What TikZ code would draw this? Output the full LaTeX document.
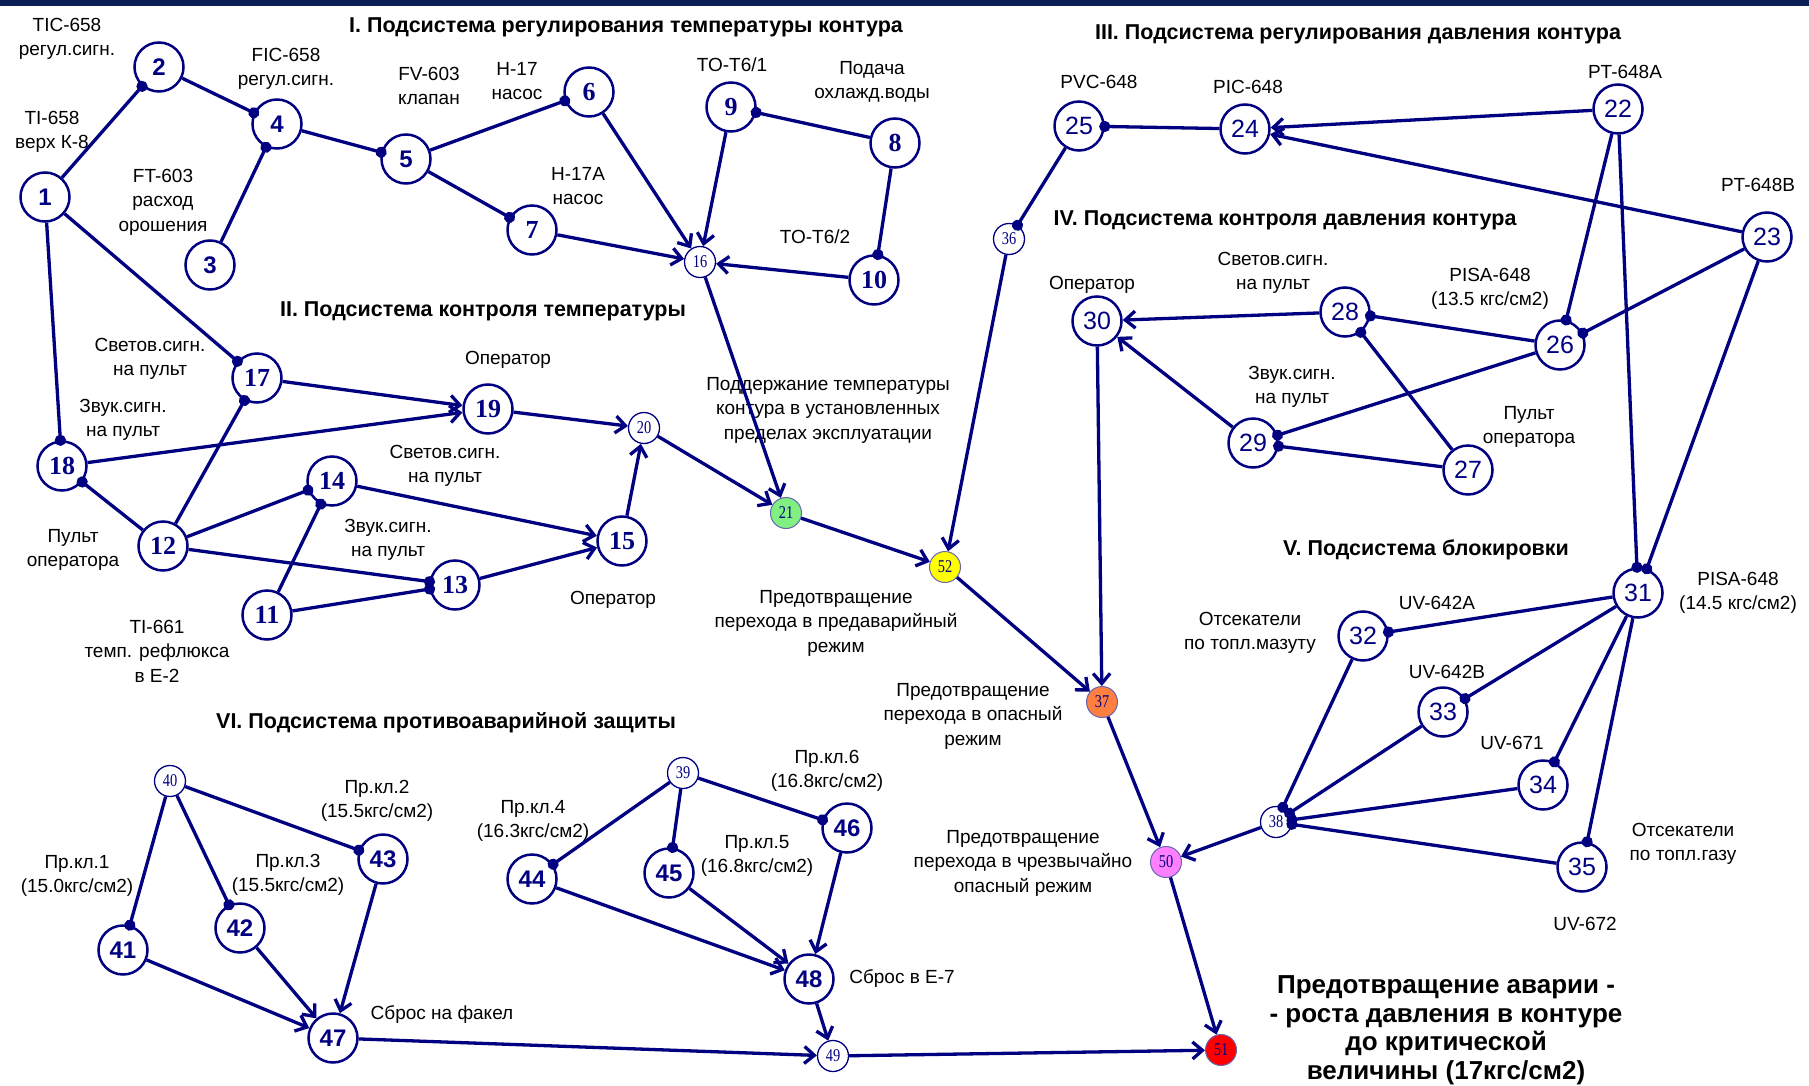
\documentclass[tikz,border=0pt]{standalone}
\usepackage{fontspec}
\setmainfont{Liberation Sans}
\newfontfamily\numserif{Liberation Serif}
\newfontfamily\narrowserif[FakeStretch=0.8]{Liberation Serif}
\usetikzlibrary{arrows.meta}
\definecolor{gnavy}{HTML}{000080}
\definecolor{gband}{HTML}{0B1E55}
\definecolor{ggreen}{HTML}{80F080}
\definecolor{gyellow}{HTML}{FFFF00}
\definecolor{gorange}{HTML}{FF7F40}
\definecolor{gpink}{HTML}{FF80FF}
\definecolor{gred}{HTML}{FF0000}
\tikzset{
  vert/.style={circle,draw=gnavy,fill=white,line width=2.5pt,minimum size=49pt,inner sep=0pt,text=gnavy,font=\fontsize{24}{24}\selectfont\bfseries},
  vserif/.style={vert,font=\numserif\fontsize{26}{26}\selectfont\bfseries},
  vthin/.style={vert,font=\fontsize{25}{25}\selectfont},
  vsm/.style={circle,draw=gnavy,fill=white,line width=1.3pt,minimum size=31pt,inner sep=0pt,text=gnavy,font=\narrowserif\fontsize{18}{18}\selectfont},
  evt/.style={vsm,draw=gnavy!60,line width=1pt},
  arr/.style={-{Straight Barb[length=10pt,width=17pt]},line width=3.3pt,draw=gnavy},
  con/.style={-{Circle[length=11pt]},shorten >=-5.5pt,line width=3.3pt,draw=gnavy},
  lbl/.style={font=\fontsize{19}{24.5}\selectfont,align=center,inner sep=0pt},
  ttl/.style={font=\fontsize{21.5}{24}\selectfont\bfseries,inner sep=0pt},
}
\begin{document}
\begin{tikzpicture}[x=1pt,y=-1pt]
  \useasboundingbox (0,0) rectangle (1809,1086);
  \fill[gband] (0,0) rectangle (1809,6);
  % I. регулирование температуры
  \node[ttl] at (626,27) {I. Подсистема регулирования температуры контура};
  \node[vert] (n1) at (45,197) {1};
  \node[vert] (n2) at (159,67) {2};
  \node[vert] (n3) at (210,265) {3};
  \node[vert] (n4) at (277,124) {4};
  \node[vert] (n5) at (406,159) {5};
  \node[vserif] (n6) at (589,92) {6};
  \node[vserif] (n7) at (532,230) {7};
  \node[vserif] (n8) at (895,143) {8};
  \node[vserif] (n9) at (731,107) {9};
  \node[vserif] (n10) at (874,280) {10};
  \node[vsm] (n16) at (700,262) {16};
  \node[lbl] at (67,39) {TIC-658\\регул.сигн.};
  \node[lbl] at (286,69) {FIC-658\\регул.сигн.};
  \node[lbl] at (52,132) {TI-658\\верх К-8};
  \node[lbl] at (163,202) {FT-603\\расход\\орошения};
  \node[lbl] at (429,86) {FV-603\\клапан};
  \node[lbl] at (517,81) {H-17\\насос};
  \node[lbl] at (578,186) {H-17A\\насос};
  \node[lbl] at (732,65) {TO-T6/1};
  \node[lbl] at (872,82) {Подача\\охлажд.воды};
  \node[lbl] at (815,237) {TO-T6/2};
  \draw[con] (n1) -- (n2);
  \draw[con] (n2) -- (n4);
  \draw[con] (n3) -- (n4);
  \draw[con] (n4) -- (n5);
  \draw[con] (n5) -- (n6);
  \draw[con] (n5) -- (n7);
  \draw[con] (n8) -- (n9);
  \draw[con] (n8) -- (n10);
  \draw[arr] (n6) -- (n16);
  \draw[arr] (n7) -- (n16);
  \draw[arr] (n9) -- (n16);
  \draw[arr] (n10) -- (n16);
  % II. контроль температуры
  \node[ttl] at (483,311) {II. Подсистема контроля температуры};
  \node[vserif] (n11) at (267,615) {11};
  \node[vserif] (n12) at (163,546) {12};
  \node[vserif] (n13) at (455,585) {13};
  \node[vserif] (n14) at (332,481) {14};
  \node[vserif] (n15) at (622,541) {15};
  \node[vserif] (n17) at (257,378) {17};
  \node[vserif] (n18) at (62,466) {18};
  \node[vserif] (n19) at (488,409) {19};
  \node[vsm] (n20) at (644,428) {20};
  \node[evt,fill=ggreen] (n21) at (786,513) {21};
  \node[lbl] at (150,359) {Светов.сигн.\\на пульт};
  \node[lbl] at (123,420) {Звук.сигн.\\на пульт};
  \node[lbl] at (508,360) {Оператор};
  \node[lbl] at (445,466) {Светов.сигн.\\на пульт};
  \node[lbl] at (388,540) {Звук.сигн.\\на пульт};
  \node[lbl] at (73,550) {Пульт\\оператора};
  \node[lbl] at (157,651) {TI-661\\темп. рефлюкса\\в Е-2};
  \node[lbl] at (613,600) {Оператор};
  \node[lbl] at (828,410) {Поддержание температуры\\контура в установленных\\пределах эксплуатации};
  \node[lbl] at (836,623) {Предотвращение\\перехода в предаварийный\\режим};
  \draw[con] (n1) -- (n17);
  \draw[con] (n1) -- (n18);
  \draw[con] (n12) -- (n18);
  \draw[con] (n12) -- (n17);
  \draw[con] (n12) -- (n14);
  \draw[con] (n11) -- (n14);
  \draw[con] (n12) -- (n13);
  \draw[con] (n11) -- (n13);
  \draw[arr] (n17) -- (n19);
  \draw[arr] (n18) -- (n19);
  \draw[arr] (n14) -- (n15);
  \draw[arr] (n13) -- (n15);
  \draw[arr] (n19) -- (n20);
  \draw[arr] (n15) -- (n20);
  \draw[arr] (n20) -- (n21);
  \draw[arr] (n16) -- (n21);
  % III. регулирование давления
  \node[ttl] at (1358,34) {III. Подсистема регулирования давления контура};
  \node[vthin] (n22) at (1618,109) {22};
  \node[vthin] (n23) at (1767,237) {23};
  \node[vthin] (n24) at (1245,129) {24};
  \node[vthin] (n25) at (1079,126) {25};
  \node[vsm] (n36) at (1009,239) {36};
  \node[evt,fill=gyellow] (n52) at (945,567) {52};
  \node[lbl] at (1099,82) {PVC-648};
  \node[lbl] at (1248,87) {PIC-648};
  \node[lbl] at (1625,72) {PT-648A};
  \node[lbl] at (1758,185) {PT-648B};
  \draw[con] (n24) -- (n25);
  \draw[con] (n25) -- (n36);
  \draw[arr] (n22) -- (n24);
  \draw[arr] (n23) -- (n24);
  \draw[arr] (n36) -- (n52);
  \draw[arr] (n21) -- (n52);
  % IV. контроль давления
  \node[ttl] at (1285,220) {IV. Подсистема контроля давления контура};
  \node[vthin] (n26) at (1560,345) {26};
  \node[vthin] (n27) at (1468,470) {27};
  \node[vthin] (n28) at (1345,312) {28};
  \node[vthin] (n29) at (1253,443) {29};
  \node[vthin] (n30) at (1097,321) {30};
  \node[evt,fill=gorange] (n37) at (1102,702) {37};
  \node[lbl] at (1092,285) {Оператор};
  \node[lbl] at (1273,273) {Светов.сигн.\\на пульт};
  \node[lbl] at (1490,289) {PISA-648\\(13.5 кгс/см2)};
  \node[lbl] at (1292,387) {Звук.сигн.\\на пульт};
  \node[lbl] at (1529,427) {Пульт\\оператора};
  \node[lbl] at (973,716) {Предотвращение\\перехода в опасный\\режим};
  \draw[con] (n26) -- (n28);
  \draw[con] (n27) -- (n28);
  \draw[con] (n22) -- (n26);
  \draw[con] (n23) -- (n26);
  \draw[con] (n26) -- (n29);
  \draw[con] (n27) -- (n29);
  \draw[arr] (n28) -- (n30);
  \draw[arr] (n29) -- (n30);
  \draw[arr] (n30) -- (n37);
  \draw[arr] (n52) -- (n37);
  % V. блокировка
  \node[ttl] at (1426,550) {V. Подсистема блокировки};
  \node[vthin] (n31) at (1638,593) {31};
  \node[vthin] (n32) at (1363,636) {32};
  \node[vthin] (n33) at (1443,712) {33};
  \node[vthin] (n34) at (1543,785) {34};
  \node[vthin] (n35) at (1582,867) {35};
  \node[vsm] (n38) at (1276,822) {38};
  \node[evt,fill=gpink] (n50) at (1166,862) {50};
  \node[evt,fill=gred] (n51) at (1221,1050) {51};
  \node[lbl] at (1250,633) {Отсекатели\\по топл.мазуту};
  \node[lbl] at (1437,603) {UV-642A};
  \node[lbl] at (1447,672) {UV-642B};
  \node[lbl] at (1738,593) {PISA-648\\(14.5 кгс/см2)};
  \node[lbl] at (1512,743) {UV-671};
  \node[lbl] at (1683,844) {Отсекатели\\по топл.газу};
  \node[lbl] at (1585,924) {UV-672};
  \node[lbl] at (1023,863) {Предотвращение\\перехода в чрезвычайно\\опасный режим};
  \draw[con] (n22) -- (n31);
  \draw[con] (n23) -- (n31);
  \draw[con] (n31) -- (n32);
  \draw[con] (n31) -- (n33);
  \draw[con] (n31) -- (n34);
  \draw[con] (n31) -- (n35);
  \draw[con] (n32) -- (n38);
  \draw[con] (n33) -- (n38);
  \draw[con] (n34) -- (n38);
  \draw[con] (n35) -- (n38);
  \draw[arr] (n38) -- (n50);
  \draw[arr] (n37) -- (n50);
  \draw[arr] (n50) -- (n51);
  % VI. противоаварийная защита
  \node[ttl] at (446,723) {VI. Подсистема противоаварийной защиты};
  \node[vsm] (n40) at (170,781) {40};
  \node[vert] (n41) at (123,950) {41};
  \node[vert] (n42) at (240,928) {42};
  \node[vert] (n43) at (383,859) {43};
  \node[vert] (n47) at (333,1038) {47};
  \node[vsm] (n39) at (683,773) {39};
  \node[vert] (n44) at (532,879) {44};
  \node[vert] (n45) at (669,873) {45};
  \node[vert] (n46) at (847,828) {46};
  \node[vert] (n48) at (809,979) {48};
  \node[vsm] (n49) at (833,1056) {49};
  \node[lbl] at (77,876) {Пр.кл.1\\(15.0кгс/см2)};
  \node[lbl] at (377,801) {Пр.кл.2\\(15.5кгс/см2)};
  \node[lbl] at (288,875) {Пр.кл.3\\(15.5кгс/см2)};
  \node[lbl] at (533,821) {Пр.кл.4\\(16.3кгс/см2)};
  \node[lbl] at (757,856) {Пр.кл.5\\(16.8кгс/см2)};
  \node[lbl] at (827,771) {Пр.кл.6\\(16.8кгс/см2)};
  \node[lbl] at (442,1014) {Сброс на факел};
  \node[lbl] at (902,978) {Сброс в Е-7};
  \draw[con] (n40) -- (n41);
  \draw[con] (n40) -- (n42);
  \draw[con] (n40) -- (n43);
  \draw[con] (n39) -- (n44);
  \draw[con] (n39) -- (n45);
  \draw[con] (n39) -- (n46);
  \draw[arr] (n41) -- (n47);
  \draw[arr] (n42) -- (n47);
  \draw[arr] (n43) -- (n47);
  \draw[arr] (n44) -- (n48);
  \draw[arr] (n45) -- (n48);
  \draw[arr] (n46) -- (n48);
  \draw[arr] (n47) -- (n49);
  \draw[arr] (n48) -- (n49);
  \draw[arr] (n49) -- (n51);
  \node[font=\fontsize{26}{28.5}\selectfont\bfseries,align=center,inner sep=0pt] at (1446,1030) {Предотвращение аварии -\\- роста давления в контуре\\до критической\\величины (17кгс/см2)};
\end{tikzpicture}
\end{document}
